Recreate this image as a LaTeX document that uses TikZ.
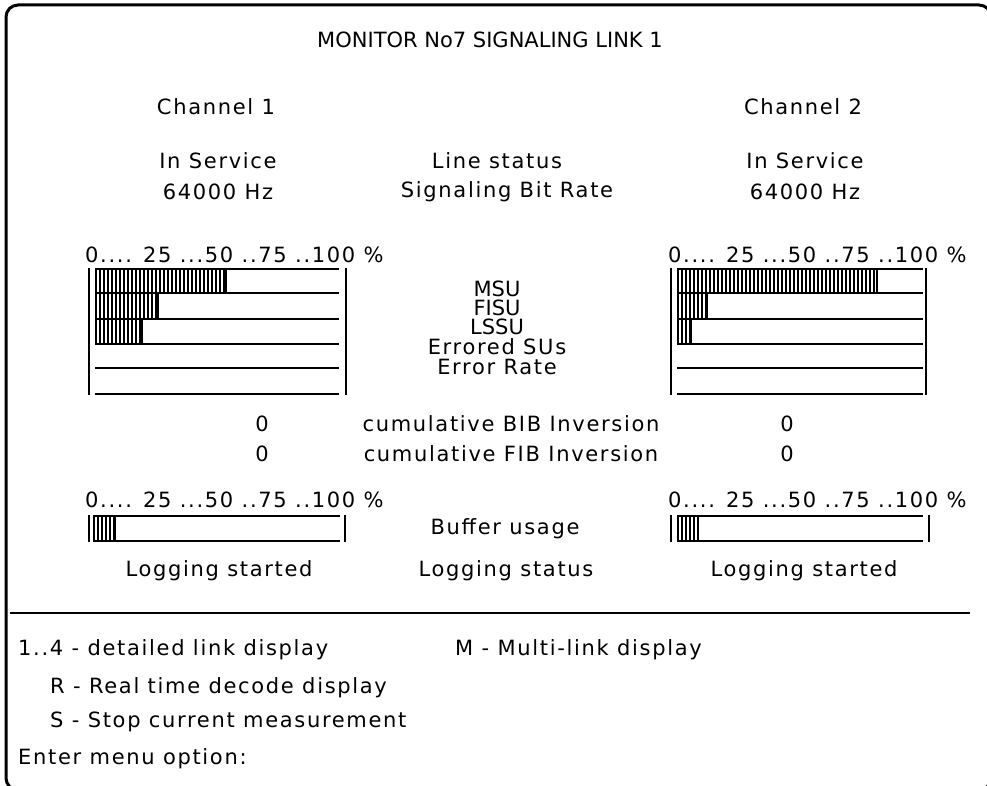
\documentclass[tikz,border=0pt]{standalone}
\usepackage{fontspec}
\setmainfont{DejaVu Sans}
\newfontfamily\scrfont[LetterSpace=8]{DejaVu Sans}

\tikzset{
  scr/.style={inner sep=0pt, font=\scrfont\fontsize{21}{21}\selectfont},
  head/.style={inner sep=0pt, font=\fontsize{21}{21}\selectfont},
  stack/.style={text height=15pt, text depth=0pt},
  menu/.style={scr, anchor=west},
  barline/.style={line width=1.8pt},
  hatchline/.style={line width=1.1pt},
}

\begin{document}
\begin{tikzpicture}[x=1pt,y=-1pt]
    \useasboundingbox (0,0) rectangle (987,786);
    \draw [line width=3pt, rounded corners=12pt] (6,5) rectangle (991,790);

    \node[head] (title) at (490,40) {MONITOR No7 SIGNALING LINK 1};

    \node[scr] (chanA) at (216,107) {Channel 1};
    \node[scr] (chanB) at (803,107) {Channel 2};

    \node[scr] (servA) at (218,161) {In Service};
    \node[scr] (rateA) at (218,192) {64000 Hz};
    \node[scr] (linestat) at (497,161) {Line status};
    \node[scr] (bitrate) at (507,192) {Signaling Bit Rate};
    \node[scr] (servB) at (805,161) {In Service};
    \node[scr] (rateB) at (805,192) {64000 Hz};

    \node[scr, anchor=west] (scaleA) at (85,255) {0.... 25 ...50 ..75 ..100 \%};
    \node[scr, anchor=west] (scaleB) at (668,255) {0.... 25 ...50 ..75 ..100 \%};

    \node[head, stack] (msu) at (497,289) {MSU};
    \node[head, stack] (fisu) at (497,308) {FISU};
    \node[head, stack] (lssu) at (497,327) {LSSU};
    \node[scr, stack] (errsu) at (497,347) {Errored SUs};
    \node[scr, stack] (errrate) at (497,367) {Error Rate};

    % channel 1 load
    \foreach \x in {96,100,...,224}
        \draw [hatchline] (\x,269) -- (\x,293);
    \foreach \x in {96,100,...,156}
        \draw [hatchline] (\x,293) -- (\x,319);
    \foreach \x in {96,100,...,140}
        \draw [hatchline] (\x,319) -- (\x,344);
    \draw [barline] (226,269) -- (226,293);
    \draw [barline] (158,293) -- (158,319);
    \draw [barline] (142,319) -- (142,344);
    \foreach \y in {269,293,319,344,368,394}
        \draw [barline] (95,\y) -- (339,\y);
    \draw [barline] (89,268) -- (89,395);
    \draw [barline] (346,268) -- (346,395);

    % channel 2 load
    \foreach \x in {678,682,...,876}
        \draw [hatchline] (\x,269) -- (\x,293);
    \foreach \x in {678,682,...,706}
        \draw [hatchline] (\x,293) -- (\x,319);
    \foreach \x in {678,682,...,690}
        \draw [hatchline] (\x,319) -- (\x,344);
    \draw [barline] (877,269) -- (877,293);
    \draw [barline] (707,293) -- (707,319);
    \draw [barline] (691,319) -- (691,344);
    \foreach \y in {269,293,319,344,368,394}
        \draw [barline] (677,\y) -- (923,\y);
    \draw [barline] (671,268) -- (671,395);
    \draw [barline] (926,268) -- (926,395);

    \node[scr] (bibA) at (262,424) {0};
    \node[scr] (bib) at (511,424) {cumulative BIB Inversion};
    \node[scr] (bibB) at (787,424) {0};
    \node[scr] (fibA) at (262,454) {0};
    \node[scr] (fib) at (511,454) {cumulative FIB Inversion};
    \node[scr] (fibB) at (787,454) {0};

    \node[scr, anchor=west] (bufscaleA) at (85,500) {0.... 25 ...50 ..75 ..100 \%};
    \node[scr, anchor=west] (bufscaleB) at (668,500) {0.... 25 ...50 ..75 ..100 \%};
    \node[scr] (buffer) at (505,529) {Buffer usage};

    % buffer bars
    \foreach \x in {94,98,...,114}
        \draw [hatchline] (\x,516) -- (\x,541);
    \draw [barline] (115,516) -- (115,541);
    \draw [barline] (93,516) -- (340,516);
    \draw [barline] (93,541) -- (340,541);
    \draw [barline] (89,515) -- (89,542);
    \draw [barline] (345,515) -- (345,542);

    \foreach \x in {678,682,...,697}
        \draw [hatchline] (\x,516) -- (\x,541);
    \draw [barline] (698,516) -- (698,541);
    \draw [barline] (677,516) -- (923,516);
    \draw [barline] (677,541) -- (923,541);
    \draw [barline] (671,515) -- (671,542);
    \draw [barline] (929,515) -- (929,542);

    \node[scr] (logA) at (219,571) {Logging started};
    \node[scr] (logstat) at (506,571) {Logging status};
    \node[scr] (logB) at (804,571) {Logging started};

    \coordinate (sepL) at (10,613);
    \coordinate (sepR) at (970,613);
    \draw [line width=2.5pt] (sepL) -- (sepR);

    \node[menu] (optlink) at (18,650) {1..4 - detailed link display};
    \node[menu] (optmulti) at (455,650) {M - Multi-link display};
    \node[menu] (optreal) at (50,688) {R - Real time decode display};
    \node[menu] (optstop) at (50,722) {S - Stop current measurement};
    \node[menu] (prompt) at (18,759) {Enter menu option:};
\end{tikzpicture}
\end{document}
